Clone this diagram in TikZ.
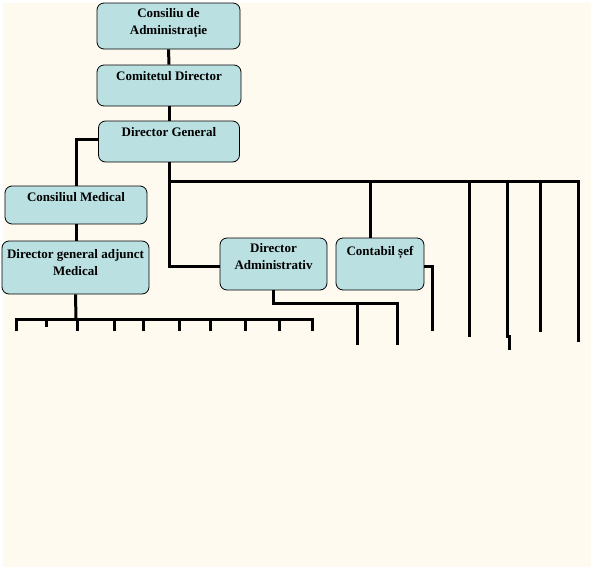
\documentclass[tikz,border=0pt]{standalone}
\usepackage{fontspec}
\setmainfont{Liberation Serif}
\definecolor{bg}{RGB}{255,250,240}
\definecolor{boxfill}{RGB}{186,224,226}
\tikzset{
  orgbox/.style={draw=black, line width=0.8pt, fill=boxfill, rounded corners=7pt, inner sep=0pt},
  lbl/.style={anchor=north, align=center, font=\bfseries\fontsize{13}{16.5}\selectfont, inner sep=0pt},
  conn/.style={line width=3pt, line join=miter}
}
\begin{document}
\begin{tikzpicture}[x=1pt,y=-1pt]
\fill[white] (0,0) rectangle (594,570);
\fill[bg] (3,3) rectangle (591,567);
\useasboundingbox (0,0) rectangle (594,570);

% boxes
\node[orgbox, minimum width=143pt, minimum height=46pt] (cda) at (168.5,26) {};
\node[orgbox, minimum width=144pt, minimum height=41pt] (cd) at (169,85.5) {};
\node[orgbox, minimum width=141pt, minimum height=41pt] (dg) at (169,141.5) {};
\node[orgbox, minimum width=142pt, minimum height=38pt] (cm) at (76,205) {};
\node[orgbox, minimum width=147pt, minimum height=53pt] (dgam) at (75.5,267.5) {};
\node[orgbox, minimum width=107pt, minimum height=52pt] (da) at (273.5,264) {};
\node[orgbox, minimum width=88pt, minimum height=52pt] (cs) at (380,264) {};

% labels
\node[lbl] at ([yshift=-6pt]cda.north) {Consiliu de\\Administrație};
\node[lbl] at ([yshift=-6.5pt]cd.north) {Comitetul Director};
\node[lbl] at ([yshift=-6.5pt]dg.north) {Director General};
\node[lbl] at ([yshift=-7pt]cm.north) {Consiliul Medical};
\node[lbl] at ([yshift=-9pt]dgam.north) {Director general adjunct\\Medical};
\node[lbl] at ([yshift=-6pt]da.north) {Director\\Administrativ};
\node[lbl] at ([yshift=-8.5pt]cs.north) {Contabil șef};

% coordinates
\coordinate (busL) at (76,319);
\coordinate (busR) at (169,181);
\coordinate (csB) at (370,181);
\coordinate (daT) at (397,303);

% connectors
\draw[conn] (cda.south) -- (cd.north);
\draw[conn] (cd.south) -- (dg.north);
\draw[conn] ([yshift=2.5pt]dg.west) -| (cm.north);
\draw[conn] (cm.south) -- (cm.south |- dgam.north);
\draw[conn] (dgam.south) -- (busL);

% left bus
\draw[conn] (16,331) -- (16,319) -- (312,319) -- (312,331);
\foreach \x in {77,114,143,179,210,245,279} \draw[conn] (\x,319) -- (\x,331);
\draw[conn] (46,319) -- (46,327);

% right bus
\draw[conn] (dg.south) -- (busR) -- (578,181) -- (578,342);
\draw[conn] (busR) |- ([yshift=-2pt]da.west);
\draw[conn] (csB) -- (csB |- cs.north);
\draw[conn] ([yshift=-2pt]cs.east) -| (432,331);
\draw[conn] (da.south) |- (daT) -- (397,345);
\draw[conn] (357,303) -- (357,345);
\draw[conn] (469,181) -- (469,337);
\draw[conn] (507,181) -- (507,336) -- (509,336) -- (509,350);
\draw[conn] (540,181) -- (540,332);
\end{tikzpicture}
\end{document}
